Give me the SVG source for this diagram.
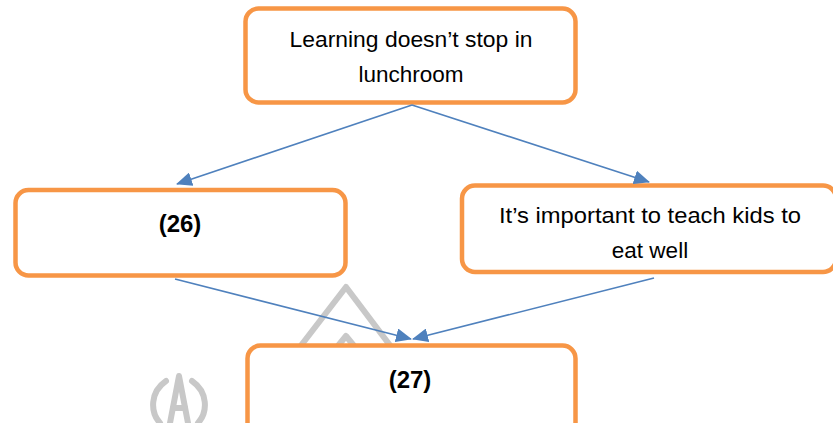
<svg xmlns="http://www.w3.org/2000/svg" width="833" height="423" viewBox="0 0 833 423">
<defs>
<marker id="ah" markerUnits="userSpaceOnUse" markerWidth="16" markerHeight="14" viewBox="0 0 16 14" refX="15" refY="7" orient="auto">
<path d="M0,0 L16,7 L0,14 Z" fill="#4F81BD"/>
</marker>
<style>
.box{fill:#fff;stroke:#F79646;stroke-width:4.5}
.t{font-family:"Liberation Sans",Arial,sans-serif;font-size:22.5px;fill:#000;text-anchor:middle}
.b{font-weight:bold;font-size:24px}
.c{stroke:#4F81BD;stroke-width:1.6;fill:none;marker-end:url(#ah)}
.wm{fill:none;stroke:#c8c8c8;stroke-width:6;stroke-linejoin:round;stroke-linecap:round}
</style>
</defs>
<g id="watermark">
<path class="wm" d="M296,352 L346,287 L395,352"/>
<path class="wm" d="M333,352 L346,336 L359,352"/>
<path class="wm" d="M170,423 L179,376 L188,423"/>
<path class="wm" d="M173,408 L185,408"/>
<path class="wm" d="M166,381 C150,392 150,412 160,423"/>
<path class="wm" d="M192,381 C208,392 208,412 198,423"/>
</g>
<g id="top">
<rect class="box" x="245.5" y="8.5" width="330" height="94" rx="13"/>
<text class="t" x="411" y="47" textLength="243" lengthAdjust="spacingAndGlyphs">Learning doesn’t stop in</text>
<text class="t" x="411" y="82">lunchroom</text>
</g>
<g id="n26">
<rect class="box" x="15.5" y="190" width="330" height="85.5" rx="13"/>
<text class="t b" x="180" y="232">(26)</text>
</g>
<g id="right">
<rect class="box" x="462" y="185.5" width="374" height="86.5" rx="13"/>
<text class="t" x="650" y="223" textLength="302" lengthAdjust="spacingAndGlyphs">It’s important to teach kids to</text>
<text class="t" x="650" y="258">eat well</text>
</g>
<g id="n27">
<rect class="box" x="247.5" y="345.5" width="328" height="100" rx="13"/>
<text class="t b" x="410" y="388">(27)</text>
</g>
<g id="connectors">
<line class="c" x1="412" y1="105" x2="177" y2="184"/>
<line class="c" x1="412" y1="105" x2="649" y2="182"/>
<line class="c" x1="175" y1="279" x2="411" y2="339"/>
<line class="c" x1="654" y1="278" x2="413" y2="339"/>
</g>
</svg>
